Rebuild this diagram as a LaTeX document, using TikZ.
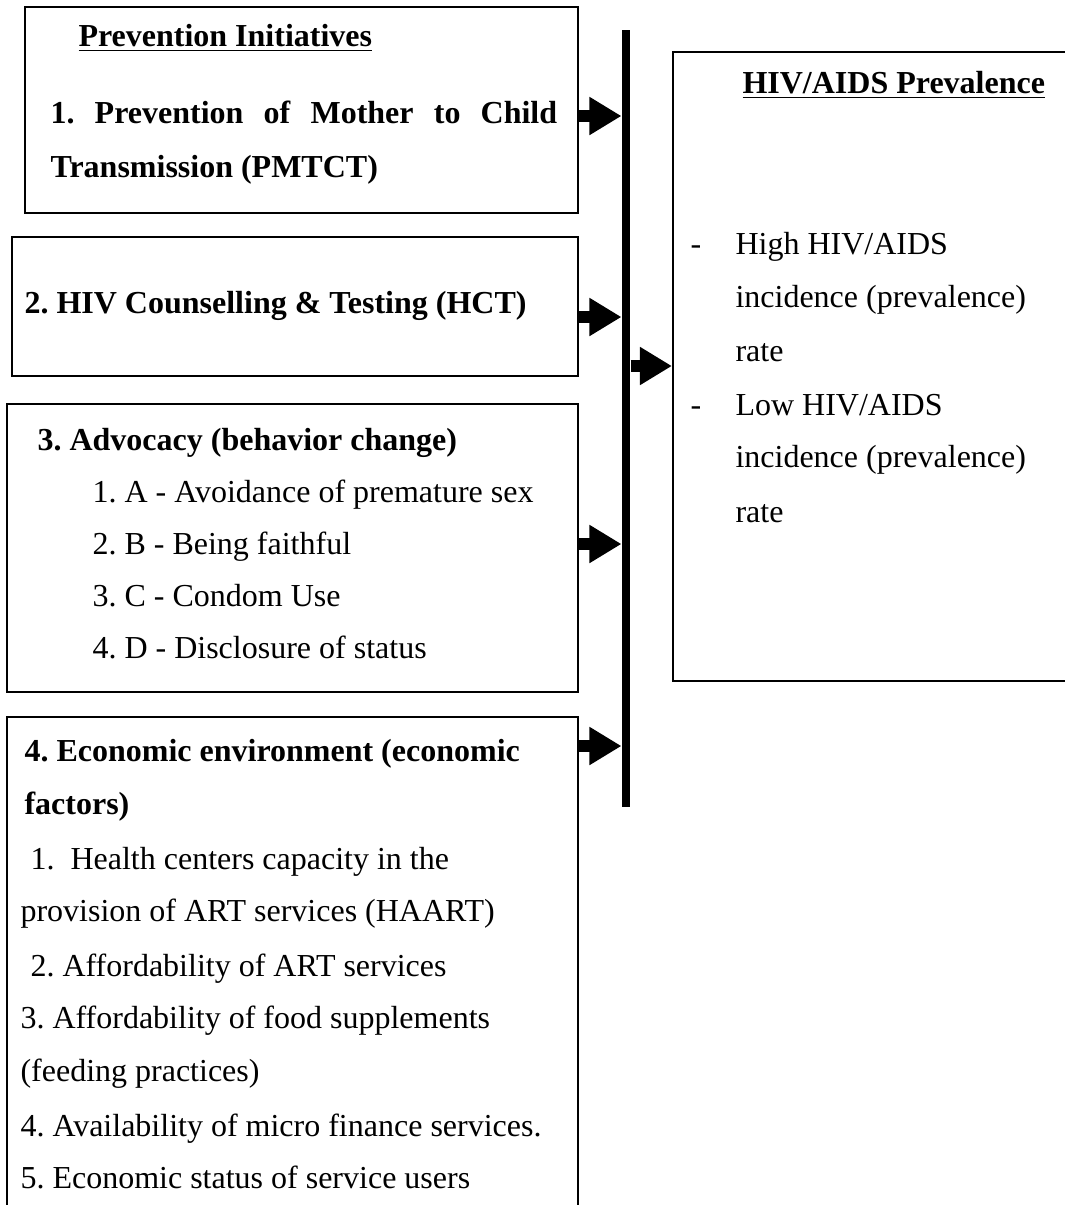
\documentclass[tikz,border=0pt]{standalone}
\usepackage{fontspec}
\setmainfont{Liberation Serif}
\usetikzlibrary{positioning, arrows.meta, fit}

\tikzset{
  framebox/.style={draw, line width=0.8pt, inner sep=0pt},
  txt/.style={anchor=base west, inner sep=0pt, font=\fontsize{12}{19.5}\selectfont},
  hd/.style={txt, font=\fontsize{12}{19.5}\selectfont\bfseries},
  bigarrow/.style={line width=4.5pt, -{Triangle[length=12pt, width=13.5pt]}}
}

\begin{document}
\frenchspacing
\begin{tikzpicture}[x=0.375pt, y=-0.375pt]
\useasboundingbox (0,0) rectangle (1065,1205);

% left boxes
\node[framebox, fit={(25,7) (578,213)}] (pmtct) {};
\node[framebox, fit={(12,237) (578,376)}] (hct) {};
\node[framebox, fit={(7,404) (578,692)}] (adv) {};
\node[framebox, fit={(7,717) (578,1230)}] (econ) {};

% bar and outcome box
\node[fill, inner sep=0pt, fit={(622,30) (630,807)}] (bar) {};
\node[framebox, fit={(673,52) (1075,681)}] (prev) {};

% box 1
\node[hd] (pi) at (78,46) {\underline{Prevention Initiatives}};
\node[hd] (pm1) at (50,123) {\makebox[190pt][s]{1. Prevention of Mother to Child}};
\node[hd] (pm2) at (50,177) {Transmission (PMTCT)};

% box 2
\node[hd] (hc) at (24,313) {2. HIV Counselling \& Testing (HCT)};

% box 3
\node[hd] (ad) at (37,450) {3. Advocacy (behavior change)};
\node[txt] (ad1) at (92,502) {1. A - Avoidance of premature sex};
\node[txt] (ad2) at (92,554) {2. B - Being faithful};
\node[txt] (ad3) at (92,606) {3. C - Condom Use};
\node[txt] (ad4) at (92,658) {4. D - Disclosure of status};

% box 4
\node[hd] (ec1) at (24,761) {4. Economic environment (economic};
\node[hd] (ec2) at (24,814) {factors)};
\node[txt] (ec3) at (30,869) {1.\ \ Health centers capacity in the};
\node[txt] (ec4) at (20,921) {provision of ART services (HAART)};
\node[txt] (ec5) at (30,976) {2. Affordability of ART services};
\node[txt] (ec6) at (20,1028) {3. Affordability of food supplements};
\node[txt] (ec7) at (20,1081) {(feeding practices)};
\node[txt] (ec8) at (20,1136) {4. Availability of micro finance services.};
\node[txt] (ec9) at (20,1188) {5. Economic status of service users};

% outcome box
\node[hd] (pv) at (742,93) {\underline{HIV/AIDS Prevalence}};
\node[txt] (d1) at (690,254) {-};
\node[txt] (hi1) at (735,254) {High HIV/AIDS};
\node[txt] (hi2) at (735,307) {incidence (prevalence)};
\node[txt] (hi3) at (735,361) {rate};
\node[txt] (d2) at (690,415) {-};
\node[txt] (lo1) at (735,415) {Low HIV/AIDS};
\node[txt] (lo2) at (735,467) {incidence (prevalence)};
\node[txt] (lo3) at (735,522) {rate};

% arrows
\foreach \src/\y in {pmtct/116, hct/317, adv/544, econ/746}
  \draw[bigarrow] (\src.east |- 0,\y) -- (bar.west |- 0,\y);
\draw[bigarrow] (bar.east |- 0,366) -- (prev.west |- 0,366);
\end{tikzpicture}
\end{document}
